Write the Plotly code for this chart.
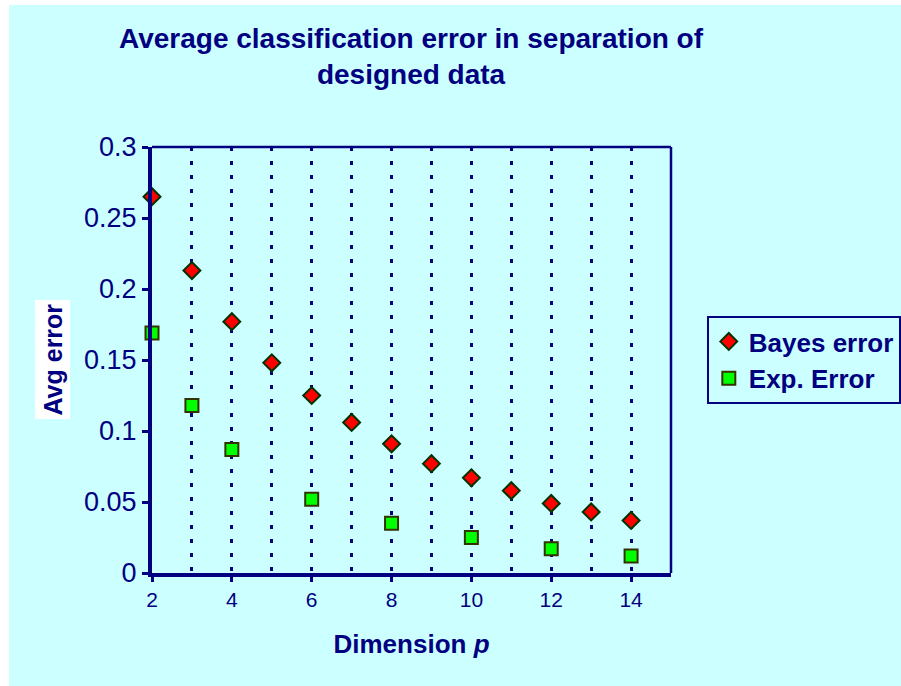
import plotly.graph_objects as go

dims_bayes = [2, 3, 4, 5, 6, 7, 8, 9, 10, 11, 12, 13, 14]
bayes_error = [0.265, 0.213, 0.177, 0.148, 0.125, 0.106, 0.091, 0.077, 0.067, 0.058, 0.049, 0.043, 0.037]
dims_exp = [2, 3, 4, 6, 8, 10, 12, 14]
exp_error = [0.169, 0.118, 0.087, 0.052, 0.035, 0.025, 0.017, 0.012]
x_ticks = [2, 4, 6, 8, 10, 12, 14]

NAVY = "#000080"
CYAN = "#CCFFFF"
FONT = "Liberation Sans, Arial, sans-serif"

fig = go.Figure()
fig.add_trace(go.Scatter(
    x=dims_bayes, y=bayes_error, mode="markers", name="<b>Bayes error</b>",
    marker=dict(symbol="diamond", size=13, color="#FF0000",
                line=dict(color="#003300", width=2)),
    cliponaxis=False,
))
fig.add_trace(go.Scatter(
    x=dims_exp, y=exp_error, mode="markers", name="<b>Exp. Error</b>",
    marker=dict(symbol="square", size=13, color="#00FF00",
                line=dict(color="#333300", width=2)),
    cliponaxis=False,
))

fig.update_layout(
    width=901, height=686,
    margin=dict(l=152, r=230, t=147, b=113, autoexpand=False),
    paper_bgcolor="white",
    plot_bgcolor=CYAN,
    font=dict(family=FONT, color=NAVY),
    showlegend=True,
    legend=dict(
        x=1.069, xanchor="left", y=0.5, yanchor="middle",
        bgcolor=CYAN, bordercolor=NAVY, borderwidth=2,
        font=dict(size=26, color=NAVY, family=FONT),
        tracegroupgap=0,
    ),
    xaxis=dict(
        range=[2, 15], tickvals=x_ticks, ticks="outside", ticklen=5,
        tickwidth=3, tickcolor=NAVY,
        showline=True, linecolor=NAVY, linewidth=4,
        showgrid=False, zeroline=False,
        tickfont=dict(size=21, color=NAVY, family=FONT),
        minor=dict(dtick=1, tick0=2, showgrid=True, gridcolor=NAVY,
                   gridwidth=3, griddash="4px,10px", ticks=""),
        title=dict(text="<b>Dimension <i>p</i></b>",
                   font=dict(size=26, color=NAVY, family=FONT), standoff=26),
    ),
    yaxis=dict(
        range=[0, 0.3], dtick=0.05, ticks="outside", ticklen=6,
        tickwidth=3, tickcolor=NAVY,
        showline=True, linecolor=NAVY, linewidth=4,
        showgrid=False, zeroline=False,
        tickfont=dict(size=27, color=NAVY, family=FONT),
    ),
    shapes=[
        dict(type="rect", xref="paper", yref="paper", x0=-0.2755, x1=1.5,
             y0=-0.4, y1=1.3333, fillcolor=CYAN, line=dict(width=0), layer="below"),
        dict(type="line", xref="paper", yref="paper", x0=0, x1=1, y0=1, y1=1,
             line=dict(color=NAVY, width=2.5)),
        dict(type="line", xref="paper", yref="paper", x0=1, x1=1, y0=0, y1=1,
             line=dict(color=NAVY, width=2.5)),
    ],
    annotations=[
        dict(text="<b>Average classification error in separation of<br>designed data</b>",
             xref="paper", yref="paper", x=0.5, y=1.2136,
             xanchor="center", yanchor="middle", showarrow=False,
             font=dict(size=28, color=NAVY, family=FONT)),
        dict(text="<b>Avg error</b>", xref="paper", yref="paper",
             x=-0.1917, y=0.5, xanchor="center", yanchor="middle",
             textangle=-90, showarrow=False, bgcolor="white", borderpad=3,
             font=dict(size=25, color=NAVY, family=FONT)),
    ],
)

fig.write_html("out.html")
